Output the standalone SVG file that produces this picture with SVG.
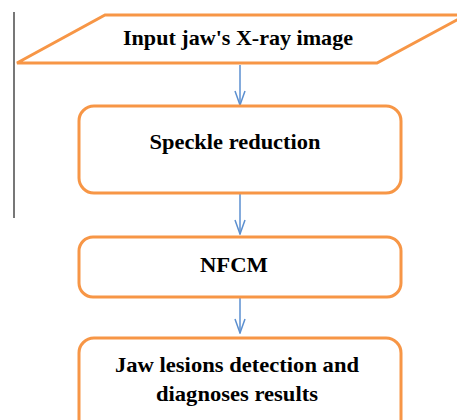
<svg xmlns="http://www.w3.org/2000/svg" width="457" height="420" viewBox="0 0 457 420">
<style>
.box{fill:#fff;stroke:#f79646;stroke-width:3}
.t{font-family:"Liberation Serif",serif;font-size:21px;fill:#000;text-anchor:middle;font-weight:bold}
.c{stroke:#5b8fd0;stroke-width:1.5;fill:none}
</style>
<defs>
<marker id="ah" viewBox="0 0 16 12" refX="15" refY="6" markerWidth="16" markerHeight="12" markerUnits="userSpaceOnUse" orient="auto">
<path d="M1,1 L15,6 L1,11" fill="none" stroke="#5b8fd0" stroke-width="1.5"/>
</marker>
</defs>
<rect width="457" height="420" fill="#fff"/>
<line x1="14" y1="12" x2="14" y2="218" stroke="#777" stroke-width="2"/>
<g id="connectors">
<line class="c" x1="240" y1="65" x2="240" y2="105" marker-end="url(#ah)"/>
<line class="c" x1="240" y1="194" x2="240" y2="234" marker-end="url(#ah)"/>
<line class="c" x1="240" y1="296" x2="240" y2="333" marker-end="url(#ah)"/>
</g>
<g id="input">
<polygon class="box" points="105,15 466,15 377,63 17,63"/>
<text class="t" x="238" y="45" textLength="230" lengthAdjust="spacingAndGlyphs">Input jaw's X-ray image</text>
</g>
<g id="speckle">
<rect class="box" x="79" y="106" width="322" height="87" rx="15"/>
<text class="t" x="235" y="149" textLength="171" lengthAdjust="spacingAndGlyphs">Speckle reduction</text>
</g>
<g id="nfcm">
<rect class="box" x="79" y="237" width="322" height="60" rx="14"/>
<text class="t" x="234" y="272" textLength="68" lengthAdjust="spacingAndGlyphs">NFCM</text>
</g>
<g id="result">
<rect class="box" x="79" y="338" width="322" height="100" rx="15"/>
<text class="t" x="237" y="372" textLength="244" lengthAdjust="spacingAndGlyphs">Jaw lesions detection and</text>
<text class="t" x="237" y="401" textLength="162" lengthAdjust="spacingAndGlyphs">diagnoses results</text>
</g>
</svg>
